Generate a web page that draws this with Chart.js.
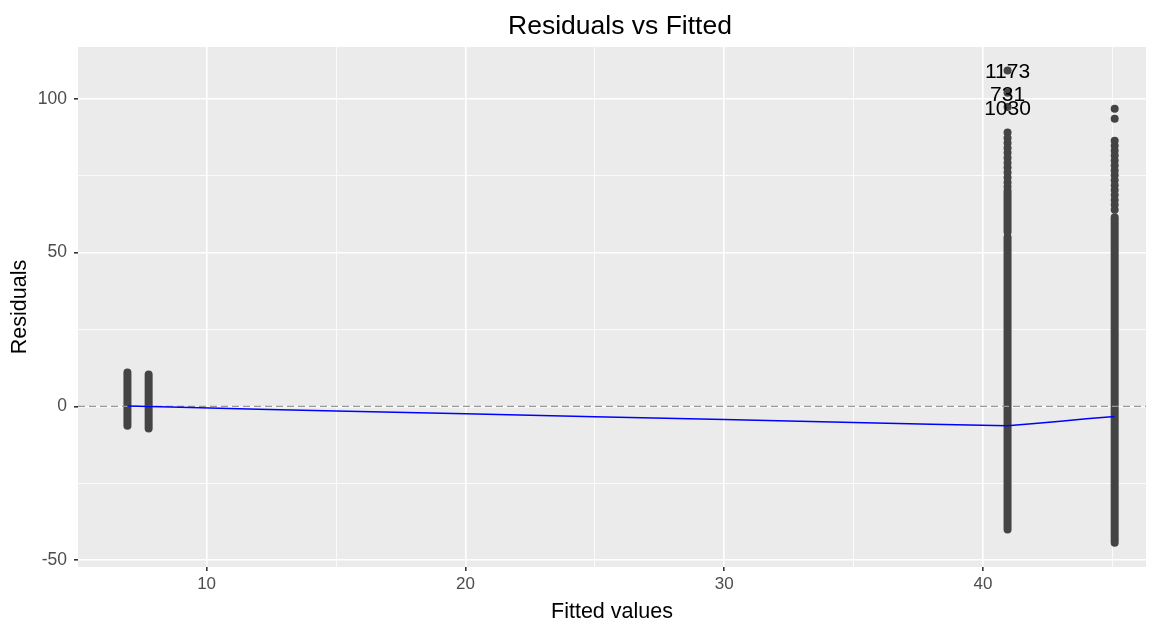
<!DOCTYPE html>
<html>
<head>
<meta charset="utf-8">
<script src="https://cdn.jsdelivr.net/npm/chart.js@4.4.1/dist/chart.umd.min.js"></script>
<style>
  body { margin: 0; background: #fff; }
  #wrap { width: 1150px; height: 623px; }
</style>
</head>
<body>
<div id="wrap"><canvas id="residChart" width="1150" height="623"></canvas></div>
<script>
const ctx = document.getElementById("residChart").getContext("2d");

const font = "'Liberation Sans', Arial, sans-serif";
const colorPoint = "#444444",
  colorPanel = "#ebebeb";

// fitted value of each vertical column of residuals
const fittedLevels = [6.94, 7.76, 40.95, 45.09];

// parts of each column so dense that the points merge into one bar
const denseLow = [[-6.3], [-7.2], [-40.0, 56.7], [-44.3]];
const denseHigh = [[11.0], [10.4], [55.0, 70.0], [61.5]];

// single points that still show as separate dots
const sparseResid = [
  [],
  [],
  [109.2, 101.9, 97.3, 89.0, 87.2, 85.6, 84.0, 82.4, 80.8, 79.2, 77.6, 76.0, 74.4, 72.8, 71.4],
  [96.7, 93.5, 86.3, 84.7, 83.1, 81.5, 79.9, 78.3, 76.7, 75.1, 73.5, 71.9, 70.3, 68.7, 67.1, 65.5, 63.9],
];

// labelled observations (column index, residual)
const labelNames = ["1173", "731", "1030"];
const labelColumn = [2, 2, 2];
const labelResid = [109.2, 101.9, 97.3];

// smoother through the residuals
const smoothX = [6.94, 7.76, 9, 12, 15, 20, 25, 30, 35, 38, 40.95, 42, 43, 44, 45.09];
const smoothY = [0.1, 0.0, -0.3, -0.9, -1.5, -2.4, -3.4, -4.3, -5.2, -5.8, -6.3, -5.6, -4.8, -4.0, -3.3];

const xTicks = [10, 15, 20, 25, 30, 35, 40, 45];
const yTicks = [-50, -25, 0, 25, 50, 75, 100];
const xMin = 5.03, xMax = 46.3, yMin = -52.2, yMax = 116.8;

const datasets = [];

fittedLevels.forEach((fx, i) => {
  denseLow[i].forEach((lo, j) => {
    datasets.push({
      type: "line",
      data: [{ x: fx, y: lo }, { x: fx, y: denseHigh[i][j] }],
      borderColor: colorPoint,
      borderWidth: 8,
      borderCapStyle: "round",
      pointRadius: 0,
      order: 3,
    });
  });
});

datasets.push({
  type: "scatter",
  data: fittedLevels.flatMap((fx, i) => sparseResid[i].map((r) => ({ x: fx, y: r }))),
  backgroundColor: colorPoint,
  borderWidth: 0,
  pointRadius: 4,
  order: 2,
});

datasets.push({
  type: "line",
  data: [{ x: xMin, y: 0 }, { x: xMax, y: 0 }],
  borderColor: "#999999",
  borderWidth: 1.4,
  borderDash: [7, 4],
  pointRadius: 0,
  order: 1,
});

datasets.push({
  type: "line",
  data: smoothX.map((x, i) => ({ x: x, y: smoothY[i] })),
  borderColor: "#0000ff",
  borderWidth: 1.5,
  pointRadius: 0,
  tension: 0,
  order: 0,
});

const panelPlugin = {
  id: "panel",
  beforeDraw(chart) {
    const { ctx, chartArea: a } = chart;
    ctx.save();
    ctx.fillStyle = "#ffffff";
    ctx.fillRect(0, 0, chart.width, chart.height);
    ctx.fillStyle = colorPanel;
    ctx.fillRect(a.left, a.top, a.right - a.left, a.bottom - a.top);
    ctx.restore();
  },
  afterDraw(chart) {
    const { ctx, scales } = chart;
    ctx.save();
    ctx.fillStyle = "#000";
    ctx.textAlign = "center";
    ctx.textBaseline = "middle";
    ctx.font = "26.5px " + font;
    ctx.fillText("Residuals vs Fitted", 620, 27);
    ctx.font = "21px " + font;
    labelNames.forEach((name, i) => {
      const px = scales.x.getPixelForValue(fittedLevels[labelColumn[i]]);
      const py = scales.y.getPixelForValue(labelResid[i]);
      ctx.fillText(name, px, py + 2);
    });
    ctx.restore();
  },
};

const gridOpts = (major) => ({
  color: "#ffffff",
  lineWidth: (c) => (c.tick && c.tick.value % major === 0 ? 1.6 : 0.8),
  tickColor: (c) => (c.tick && c.tick.value % major === 0 ? "#333333" : "rgba(0,0,0,0)"),
  tickLength: 4,
  drawTicks: true,
});

new Chart(ctx, {
  data: { datasets: datasets },
  plugins: [panelPlugin],
  options: {
    responsive: false,
    animation: false,
    layout: { padding: { top: 47, right: 4, left: 0, bottom: 0 } },
    plugins: { legend: { display: false }, tooltip: { enabled: false } },
    scales: {
      x: {
        type: "linear",
        min: xMin,
        max: xMax,
        afterFit: (s) => { s.height = 56; },
        afterBuildTicks: (s) => { s.ticks = xTicks.map((v) => ({ value: v })); },
        grid: gridOpts(10),
        border: { display: false },
        ticks: {
          color: "#4d4d4d",
          font: { family: font, size: 17 },
          padding: 3,
          maxRotation: 0,
          autoSkip: false,
          callback: (v) => (v % 10 === 0 ? String(v) : ""),
        },
        title: {
          display: true,
          text: "Fitted values",
          color: "#000",
          font: { family: font, size: 21.5, lineHeight: 1.0 },
          padding: { top: 0, bottom: 0 },
        },
      },
      y: {
        type: "linear",
        min: yMin,
        max: yMax,
        afterFit: (s) => { s.width = 78; },
        afterBuildTicks: (s) => { s.ticks = yTicks.map((v) => ({ value: v })); },
        grid: gridOpts(50),
        border: { display: false },
        ticks: {
          color: "#4d4d4d",
          font: { family: font, size: 17.5 },
          padding: 7,
          autoSkip: false,
          callback: (v) => (v % 50 === 0 ? String(v) : ""),
        },
        title: {
          display: true,
          text: "Residuals",
          color: "#000",
          font: { family: font, size: 21.5, lineHeight: 1.0 },
          padding: { top: 9, bottom: 0 },
        },
      },
    },
  },
});
</script>
</body>
</html>
